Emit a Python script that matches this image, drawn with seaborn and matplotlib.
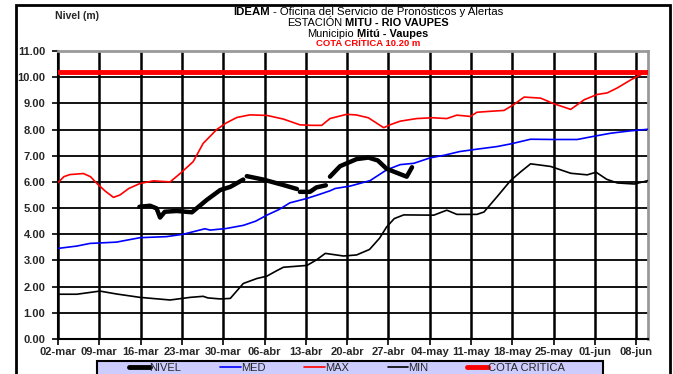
import numpy as np
import pandas as pd
import matplotlib
matplotlib.use('Agg')
import matplotlib.pyplot as plt
import seaborn as sns
from matplotlib.lines import Line2D
from matplotlib.patches import Rectangle

# datos (dias desde 02-mar)
max_dias = [0, 1, 2, 4.3, 5.5, 6.6, 8, 9.4, 10.5, 12, 13.9, 16.2, 19, 20.7, 22.9, 24.6, 26.9, 28.5,
            30.3, 32.5, 35.4, 38.2, 41, 43, 44.7, 46.1, 48.9, 50.5, 52.6, 55.2, 56.5, 58, 60.8, 63.5,
            65.9, 67.6, 69.9, 71, 73.5, 75.6, 77.3, 79, 81.8, 84, 86.9, 89.2, 91.4, 93.1, 94.8, 97.1, 100]
max_val = [5.97, 6.2, 6.28, 6.32, 6.2, 5.94, 5.65, 5.41, 5.5, 5.75, 5.94, 6.04, 6.0, 6.32, 6.77, 7.47, 8.0, 8.25,
           8.46, 8.56, 8.54, 8.4, 8.18, 8.16, 8.16, 8.42, 8.58, 8.56, 8.45, 8.07, 8.2, 8.32, 8.42, 8.45,
           8.42, 8.55, 8.5, 8.66, 8.7, 8.73, 8.96, 9.24, 9.2, 8.99, 8.77, 9.14, 9.34, 9.4, 9.59, 9.9, 10.24]

med_dias = [0, 3.2, 5.4, 9.9, 13.9, 18.4, 21.2, 24.9, 25.8, 28.5, 31.4, 33.5, 35.4, 37.5, 39.3, 42.2, 44,
            46.1, 47, 49.5, 52.9, 55.7, 58, 60.3, 63.1, 65.5, 68.1, 71, 74.4, 76.7, 80.1, 84, 88, 91,
            93.7, 97, 100]
med_val = [3.46, 3.55, 3.65, 3.70, 3.87, 3.91, 4.0, 4.21, 4.16, 4.22, 4.34, 4.5, 4.73, 4.95, 5.2, 5.37, 5.5,
           5.66, 5.75, 5.84, 6.05, 6.46, 6.66, 6.71, 6.92, 7.02, 7.16, 7.25, 7.35, 7.45, 7.63, 7.62, 7.62, 7.75,
           7.86, 7.95, 8.01]

min_dias = [0, 3.2, 7.1, 9.9, 13.9, 19, 22.4, 24.6, 25.4, 27.5, 29.2, 31.4, 33.7, 35.4, 37, 38.2, 42.2,
            43.8, 45.3, 48.4, 50.6, 52.8, 54.5, 55.7, 57, 58.6, 63.7, 65.9, 67.6, 71, 72.2, 74.4, 76.7,
            78.5, 80.1, 81.5, 83.5, 86.9, 89.7, 91.2, 93, 94.8, 97.7, 100]
min_val = [1.71, 1.71, 1.83, 1.72, 1.59, 1.49, 1.59, 1.63, 1.57, 1.53, 1.55, 2.12, 2.31, 2.40, 2.6, 2.74, 2.81,
           3.02, 3.27, 3.17, 3.21, 3.42, 3.85, 4.28, 4.6, 4.74, 4.73, 4.92, 4.76, 4.76, 4.85, 5.43, 6.05,
           6.4, 6.69, 6.65, 6.59, 6.33, 6.27, 6.37, 6.1, 5.96, 5.92, 6.05]

# nivel observado, con tramos sin dato
nivel_dias = [13.8, 15.6, 16.7, 17.3, 18.1, 20.1, 22.7, 25.2, 27.5, 29.2, 31.4,
              32, 34.8, 38.2, 40.5,
              41, 42.7, 43.8, 45.4,
              46.1, 47.8, 50.6, 52.6, 54.2, 55.7, 59.1, 60]
nivel_val = [5.05, 5.09, 4.99, 4.64, 4.86, 4.89, 4.84, 5.31, 5.69, 5.81, 6.09,
             6.22, 6.09, 5.88, 5.73,
             5.62, 5.62, 5.79, 5.87,
             6.2, 6.6, 6.87, 6.93, 6.82, 6.5, 6.2, 6.56]
nivel_tramo = [1] * 11 + [2] * 4 + [3] * 4 + [4] * 8

cota_critica = 10.20
fechas = ['02-mar', '09-mar', '16-mar', '23-mar', '30-mar', '06-abr', '13-abr', '20-abr',
          '27-abr', '04-may', '11-may', '18-may', '25-may', '01-jun', '08-jun']

sns.set_style('white')
plt.rcParams['font.family'] = ['Liberation Sans', 'DejaVu Sans']

fig = plt.figure(figsize=(6.73, 3.74), dpi=100)
ax = fig.add_axes([58 / 673, 1 - 339 / 374, 590 / 673, 288 / 374])

df_nivel = pd.DataFrame({'dia': nivel_dias, 'nivel': nivel_val, 'tramo': nivel_tramo})

sns.lineplot(x=[0, 100], y=[cota_critica, cota_critica], color='#ff0000', lw=3.5, ax=ax, zorder=3)
sns.lineplot(x=med_dias, y=med_val, color='#0000ff', lw=1.2, ax=ax, zorder=4)
sns.lineplot(x=max_dias, y=max_val, color='#ff0000', lw=1.2, ax=ax, zorder=4)
sns.lineplot(x=min_dias, y=min_val, color='black', lw=1.2, ax=ax, zorder=4)
sns.lineplot(data=df_nivel, x='dia', y='nivel', units='tramo', estimator=None,
             color='black', lw=3.2, ax=ax, zorder=5)

ax.set_xlim(0, 100)
ax.set_ylim(0, 11)
ax.set_xticks(np.arange(0, 99, 7))
ax.set_xticklabels(fechas)
ax.set_yticks(np.arange(0, 12, 1))
ax.set_yticklabels([f'{v:.2f}' for v in range(12)])
ax.set_xlabel('')
ax.set_ylabel('')
for lbl in ax.get_xticklabels() + ax.get_yticklabels():
    lbl.set_fontweight('bold')
    lbl.set_fontsize(8)
ax.tick_params(axis='both', direction='out', length=4, width=1.2, color='black', left=True, bottom=True)
ax.tick_params(axis='y', pad=5)
ax.tick_params(axis='x', pad=1.5)

ax.grid(axis='y', color='black', lw=1.3, zorder=1)
ax.grid(axis='x', color='black', lw=1.8, zorder=1)
ax.set_axisbelow(True)
ax.spines['left'].set_color('black')
ax.spines['bottom'].set_color('black')
ax.spines['left'].set_linewidth(1.5)
ax.spines['bottom'].set_linewidth(1.5)
ax.spines['top'].set_color('#999999')
ax.spines['right'].set_color('#999999')
ax.spines['top'].set_linewidth(2)
ax.spines['right'].set_linewidth(2)

# marco exterior
fig.patches.append(Rectangle((16 / 673, -0.05), 654 / 673, 1.05 - 5 / 374, transform=fig.transFigure,
                             fill=False, edgecolor='black', lw=2))

fig.text(55 / 673, 1 - 16 / 374, 'Nivel (m)', fontsize=7.5, fontweight='bold', va='center', ha='left')

# titulo con partes en negrita
def linea_mixta(y, partes, size, color='black', xc=368 / 673):
    r = fig.canvas.get_renderer()
    objs = [fig.text(0, y, s, fontsize=size, fontweight=w, color=color, va='center', ha='left')
            for s, w in partes]
    anchos = [t.get_window_extent(r).width for t in objs]
    gap = size * 100 / 72 * 0.28
    total = sum(anchos) + gap * (len(objs) - 1)
    x = xc * 673 - total / 2
    for t, w in zip(objs, anchos):
        t.set_x(x / 673)
        x += w + gap

linea_mixta(1 - 12 / 374, [('IDEAM', 'bold'), ('- Oficina del Servicio de Pronósticos y Alertas', 'normal')], 8.2)
linea_mixta(1 - 23 / 374, [('ESTACIÓN', 'normal'), ('MITU - RIO VAUPES', 'bold')], 7.9)
linea_mixta(1 - 34 / 374, [('Municipio', 'normal'), ('Mitú - Vaupes', 'bold')], 7.9)
linea_mixta(1 - 44 / 374, [('COTA CRÍTICA 10.20 m', 'bold')], 6.8, color='#ff0000')

# leyenda con caja lila
fig.patches.append(Rectangle((97 / 673, -0.05), 506 / 673, 0.05 + 1 - 361 / 374, transform=fig.transFigure,
                             facecolor='#ccccff', edgecolor='black', lw=1.5, zorder=0))
handles = [Line2D([], [], color='black', lw=3.5),
           Line2D([], [], color='#0000ff', lw=1.2),
           Line2D([], [], color='#ff0000', lw=1.2),
           Line2D([], [], color='black', lw=1.2),
           Line2D([], [], color='#ff0000', lw=3.5)]
labels = ['NIVEL', 'MED', 'MAX', 'MIN', 'COTA CRITICA']
leg = fig.legend(handles, labels, loc='center left', bbox_to_anchor=(129 / 673, 1 - 368 / 374),
                 ncol=5, fontsize=8, frameon=False, handlelength=1.85,
                 handletextpad=0.0, columnspacing=3.5, borderpad=0, borderaxespad=0)

fig.savefig('out.png', dpi=100)
